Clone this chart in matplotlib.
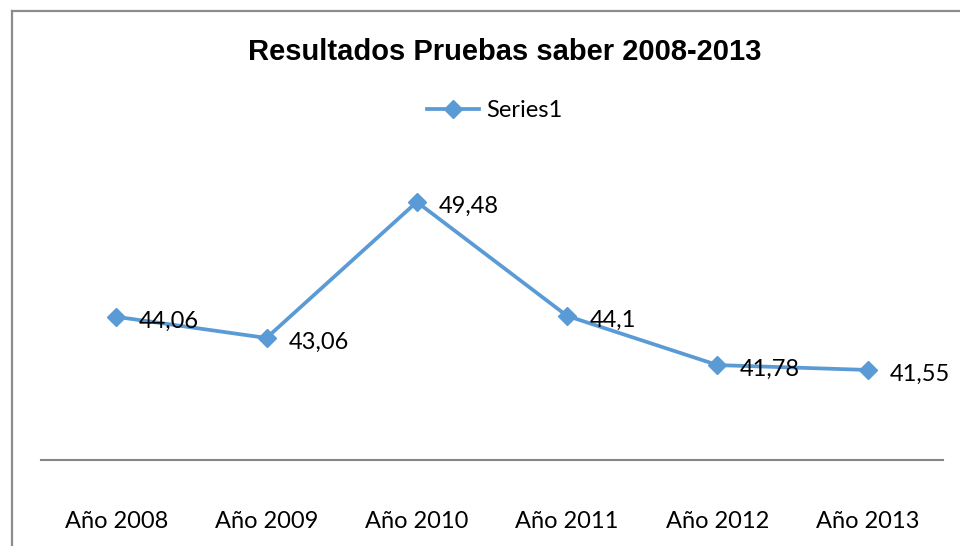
import matplotlib
matplotlib.use("Agg")
import matplotlib.pyplot as plt
from matplotlib.lines import Line2D

categories = ["Año 2008", "Año 2009", "Año 2010", "Año 2011", "Año 2012", "Año 2013"]
values = [44.06, 43.06, 49.48, 44.1, 41.78, 41.55]
labels = ["44,06", "43,06", "49,48", "44,1", "41,78", "41,55"]
series_name = "Series1"
title = "Resultados Pruebas saber 2008-2013"

plt.rcParams['font.family'] = ['Lato', 'DejaVu Sans']

W, H = 960, 546
fig = plt.figure(figsize=(W / 100, H / 100), dpi=100)
ax = fig.add_axes([41 / W, (H - 460) / H, (943 - 41) / W, (460 - 160) / H])

color = "#5B9BD5"
x = list(range(len(categories)))
line, = ax.plot(x, values, color=color, lw=2.7, marker="D", markersize=9.5,
                label=series_name)

for xi, v, lab in zip(x, values, labels):
    ax.annotate(lab, (xi, v), xytext=(16, -3), textcoords="offset points",
                ha="left", va="center", fontsize=17, color="black")

ax.set_xlim(-0.5, len(categories) - 0.5)
ax.set_ylim(37.3, 51.46)
ax.set_xticks(x)
ax.set_xticklabels(categories, fontsize=17)
ax.tick_params(axis="x", length=0, pad=37)
ax.set_yticks([])
for s in ["left", "right", "top"]:
    ax.spines[s].set_visible(False)
ax.spines["bottom"].set_color("#868686")
ax.spines["bottom"].set_linewidth(1.5)

fig.text(505 / W, 1 - 52 / H, title, ha="center", va="center",
         fontsize=21, fontweight="bold", family=["Liberation Sans", "DejaVu Sans"])

leg = fig.legend(handles=[line], loc="center", bbox_to_anchor=(495 / W, 1 - 111 / H),
                 frameon=False, fontsize=17, handlelength=2.2, handletextpad=0.3,
                 borderpad=0, borderaxespad=0)

# outer chart frame (left and top edges visible)
fig.add_artist(Line2D([11.5 / W, 11.5 / W], [0, 1 - 10.5 / H], color="#8c8c8c", lw=1.6,
                      transform=fig.transFigure))
fig.add_artist(Line2D([11.5 / W, 1], [1 - 10.5 / H, 1 - 10.5 / H], color="#8c8c8c", lw=1.6,
                      transform=fig.transFigure))

fig.savefig("out.png", dpi=100, facecolor="white")
